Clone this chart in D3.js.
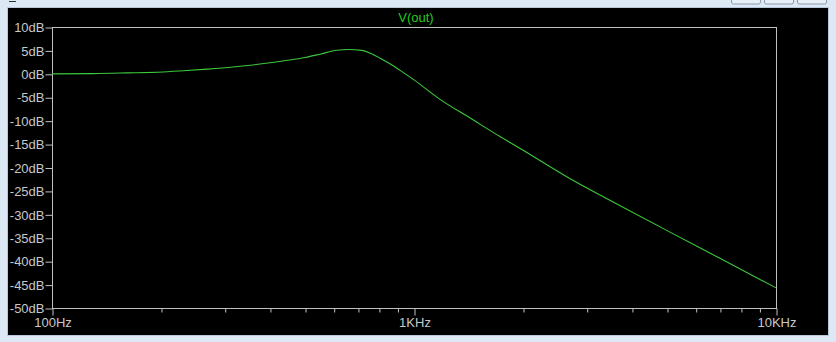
<!DOCTYPE html>
<html>
<head>
<meta charset="utf-8">
<script src="https://cdn.jsdelivr.net/npm/d3@7"></script>
<style>
  html, body { margin: 0; padding: 0; background: #dde8f5; }
  svg { display: block; }
  text { font-family: "Liberation Sans", Arial, sans-serif; }
</style>
</head>
<body>
<div id="chart"></div>
<script>
// bode magnitude of V(out)
const freqs = [100, 130, 161, 202, 236, 268, 316, 359, 400, 454, 500, 550, 613, 660, 718, 757, 804, 860, 913, 1000, 1177, 1430, 1728, 1960, 2700, 3700, 5096, 7000, 10000];
const gainDb = [0, 0.05, 0.2, 0.4, 0.7, 1.0, 1.45, 1.9, 2.35, 2.95, 3.5, 4.2, 5.05, 5.2, 5.0, 4.4, 3.4, 2.1, 0.8, -1.3, -5.4, -9.45, -13.4, -15.9, -22.4, -28.1, -33.8, -39.4, -45.7];
const yTicks = [10, 5, 0, -5, -10, -15, -20, -25, -30, -35, -40, -45, -50];
const xMajor = [100, 1000, 10000];
const xLabels = ["100Hz", "1KHz", "10KHz"];
const title = "V(out)";

const W = 836, H = 342;
const mLeft = 52, mRight = 776, mTop = 27, mBottom = 308;

const x = d3.scaleLog().domain([100, 10000]).range([mLeft, mRight]);
const y = d3.scaleLinear().domain([-50, 10]).range([mBottom, mTop]);

const svg = d3.select("#chart").append("svg")
  .attr("width", W).attr("height", H);

// window chrome
svg.append("rect").attr("x", 0).attr("y", 0).attr("width", W).attr("height", H).attr("fill", "#dde8f5");
svg.append("line").attr("x1", 9).attr("x2", 16).attr("y1", 1.5).attr("y2", 1.5).attr("stroke", "#333");
[731, 764, 797].forEach(bx => {
  svg.append("rect").attr("x", bx + 0.5).attr("y", -4).attr("width", 29).attr("height", 8)
    .attr("rx", 2).attr("fill", "#e9eff7").attr("stroke", "#8a9aae");
});
svg.append("rect").attr("x", 7.5).attr("y", 7.5).attr("width", 821).attr("height", 328)
  .attr("fill", "#000").attr("stroke", "#b9c7d8");

// plot frame
const grey = "#c0c0c0";
svg.append("rect").attr("x", mLeft + 0.5).attr("y", mTop + 0.5)
  .attr("width", mRight - mLeft).attr("height", mBottom - mTop)
  .attr("fill", "none").attr("stroke", grey);

// y axis
const yAxis = svg.append("g").attr("transform", `translate(${mLeft + 0.5},0.5)`)
  .call(d3.axisLeft(y).tickValues(yTicks).tickSize(7).tickPadding(1).tickFormat(d => d + "dB"));
yAxis.select(".domain").remove();
yAxis.selectAll("line").attr("stroke", grey);
yAxis.selectAll("text").attr("fill", "#c8c8c8").attr("font-size", 13)
  .attr("font-family", "Liberation Sans, Arial, sans-serif");

// x axis: minor ticks per decade, majors labelled
const xMinor = [];
[100, 1000].forEach(dec => { for (let k = 2; k <= 9; k++) xMinor.push(dec * k); });
const xAxisMinor = svg.append("g").attr("transform", `translate(0.5,${mBottom + 0.5})`)
  .call(d3.axisBottom(x).tickValues(xMinor).tickSize(4).tickFormat(""));
xAxisMinor.select(".domain").remove();
xAxisMinor.selectAll("line").attr("stroke", grey);

const xAxis = svg.append("g").attr("transform", `translate(0.5,${mBottom + 0.5})`)
  .call(d3.axisBottom(x).tickValues(xMajor).tickSize(7).tickPadding(2)
    .tickFormat((d, i) => xLabels[i]));
xAxis.select(".domain").remove();
xAxis.selectAll("line").attr("stroke", grey);
xAxis.selectAll("text").attr("fill", "#c8c8c8").attr("font-size", 13)
  .attr("font-family", "Liberation Sans, Arial, sans-serif");

// title
svg.append("text").attr("x", (mLeft + mRight) / 2 + 2).attr("y", 22)
  .attr("text-anchor", "middle").attr("font-size", 13).attr("fill", "#22cc22")
  .text(title);

// trace
const pts = freqs.map((f, i) => [f, gainDb[i]]);
svg.append("path").datum(pts)
  .attr("fill", "none").attr("stroke", "#3cc83c").attr("stroke-width", 1.1)
  .attr("d", d3.line().x(d => x(d[0])).y(d => y(d[1])).curve(d3.curveMonotoneX));
</script>
</body>
</html>
